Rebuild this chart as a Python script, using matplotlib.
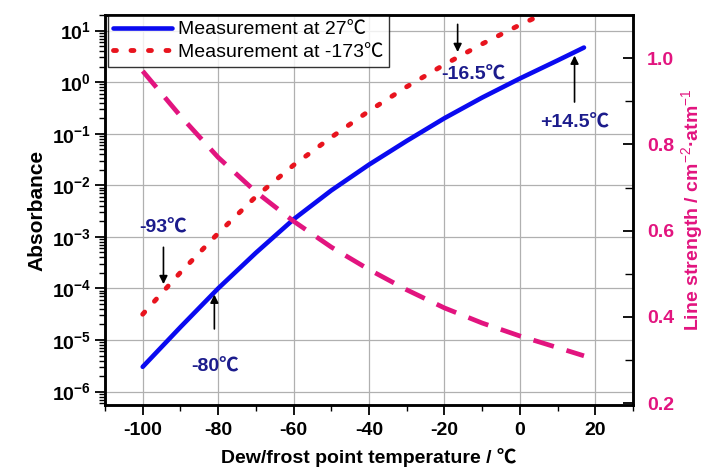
import matplotlib
matplotlib.use("Agg")
import matplotlib.pyplot as plt
import numpy as np
from matplotlib.ticker import LogLocator, FixedLocator, FuncFormatter, NullFormatter, MultipleLocator

plt.rcParams['font.family'] = ['Liberation Sans', 'Noto Sans CJK SC', 'DejaVu Sans']
plt.rcParams['mathtext.fontset'] = 'custom'
plt.rcParams['mathtext.rm'] = 'Liberation Sans'
plt.rcParams['mathtext.bf'] = 'Liberation Sans:bold'

# ---- data ----
temp = [-100, -90, -80, -70, -60, -50, -40, -30, -20, -10, 0, 10, 17]
log_abs_27 = [-5.52, -4.75, -4.00, -3.31, -2.66, -2.10, -1.60, -1.14, -0.70, -0.30, 0.07, 0.42, 0.67]
temp_red = [-100, -90, -80, -70, -60, -50, -40, -30, -20, -10, 0, 10]
log_abs_m173 = [-4.50, -3.69, -2.93, -2.22, -1.61, -1.07, -0.56, -0.09, 0.34, 0.74, 1.11, 1.45]
line_strength = [0.970, 0.866, 0.770, 0.690, 0.622, 0.562, 0.510, 0.463, 0.421, 0.386, 0.356, 0.329, 0.310]

abs_27 = [10 ** v for v in log_abs_27]
abs_m173 = [10 ** v for v in log_abs_m173]

xticks = [-100, -80, -60, -40, -20, 0, 20]
rticks = [0.2, 0.4, 0.6, 0.8, 1.0]

BLUE = '#0A0AF0'
RED = '#E8141E'
PINK = '#E2147F'
NAVY = '#1C1C8C'
FS = 14

fig = plt.figure(figsize=(7.05, 4.71), dpi=100)
ax = fig.add_axes([105/705, 1-405/471, (633-105)/705, (405-15)/471])

ax.grid(True, which='major', color='#B0B0B0', lw=0.9, zorder=0)
l1, = ax.plot(temp, abs_27, color=BLUE, lw=3.3, solid_capstyle='round', solid_joinstyle='round',
              zorder=3, label='Measurement at 27℃')
l2, = ax.plot(temp_red, abs_m173, color=RED, lw=3.5, linestyle=(0, (0.6, 3.0)),
              dash_capstyle='round', zorder=3, label='Measurement at -173℃')
ax.set_yscale('log')
ax.set_xlim(-110, 30)
ax.set_ylim(5.5e-7, 20)

ax.xaxis.set_major_locator(FixedLocator(xticks))
ax.xaxis.set_minor_locator(MultipleLocator(10))
ax.set_xticklabels([str(t) for t in xticks], fontweight='bold', fontsize=FS)
ax.yaxis.set_major_locator(LogLocator(base=10, numticks=20))
ax.yaxis.set_minor_locator(LogLocator(base=10, subs=np.arange(2, 10), numticks=20))
ax.yaxis.set_major_formatter(FuncFormatter(lambda v, p: r'$\mathbf{10^{%d}}$' % int(round(np.log10(v)))))
ax.yaxis.set_minor_formatter(NullFormatter())
ax.tick_params(axis='both', which='major', direction='out', length=7, width=1.3, labelsize=FS)
ax.tick_params(axis='x', which='major', pad=5)
ax.tick_params(axis='y', which='major', pad=3)
ax.tick_params(axis='both', which='minor', direction='out', length=4, width=1.0)
ax.tick_params(top=False, right=False, which='both')
for s in ax.spines.values():
    s.set_linewidth(1.8)

ax.set_xlabel('Dew/frost point temperature / ℃', fontsize=FS, fontweight='bold', labelpad=7)
ax.set_ylabel('Absorbance', fontsize=15, fontweight='bold', labelpad=4)

ax2 = ax.twinx()
ax2.plot(temp, line_strength, color=PINK, lw=3.4, linestyle=(0, (4.5, 2.8)), zorder=3)
ax2.set_ylim(0.196, 1.1)
ax2.yaxis.set_major_locator(FixedLocator(rticks))
ax2.yaxis.set_minor_locator(FixedLocator([0.3, 0.5, 0.7, 0.9]))
ax2.set_yticklabels(['%.1f' % t for t in rticks], fontweight='bold', fontsize=FS, color=PINK)
ax2.tick_params(axis='y', which='major', direction='in', length=7, width=1.3, pad=10)
ax2.tick_params(axis='y', which='minor', direction='in', length=6, width=1.0)
ax2.set_ylabel('Line strength / cm$^{-2}$·atm$^{-1}$', fontsize=14, fontweight='bold',
               color=PINK, labelpad=4)
ax2.xaxis.set_visible(False)
for s in ax2.spines.values():
    s.set_linewidth(1.8)

leg = ax.legend(handles=[l1, l2], loc='upper left', bbox_to_anchor=(0.005, 1.0),
                fontsize=FS, frameon=True, fancybox=False, edgecolor='black',
                borderpad=0.3, handlelength=3.0, handletextpad=0.3, labelspacing=0.25,
                borderaxespad=0.0)
leg.get_frame().set_linewidth(1.0)
leg.set_zorder(10)

# ---- annotations ----
arrow = dict(arrowstyle='-|>', color='black', lw=1.2, mutation_scale=12)
tkw = dict(color=NAVY, fontsize=FS, fontweight='bold', ha='center', va='center', zorder=6)
ax.annotate('', xy=(-94.5, 1.07e-4), xytext=(-94.5, 7.1e-4), arrowprops=arrow, zorder=6)
ax.text(-94.7, 1.5e-3, '-93℃', **tkw)
ax.annotate('', xy=(-81, 8.6e-5), xytext=(-81, 1.45e-5), arrowprops=arrow, zorder=6)
ax.text(-80.8, 3.0e-6, '-80℃', **tkw)
ax.annotate('', xy=(-16.5, 3.38), xytext=(-16.5, 14.9), arrowprops=arrow, zorder=6,
            annotation_clip=False)
ax.text(-12.4, 1.39, '-16.5℃', **tkw)
ax.annotate('', xy=(14.5, 3.7), xytext=(14.5, 0.363), arrowprops=arrow, zorder=6)
ax.text(14.4, 0.162, '+14.5℃', **tkw)

fig.savefig('out.png', dpi=100)
